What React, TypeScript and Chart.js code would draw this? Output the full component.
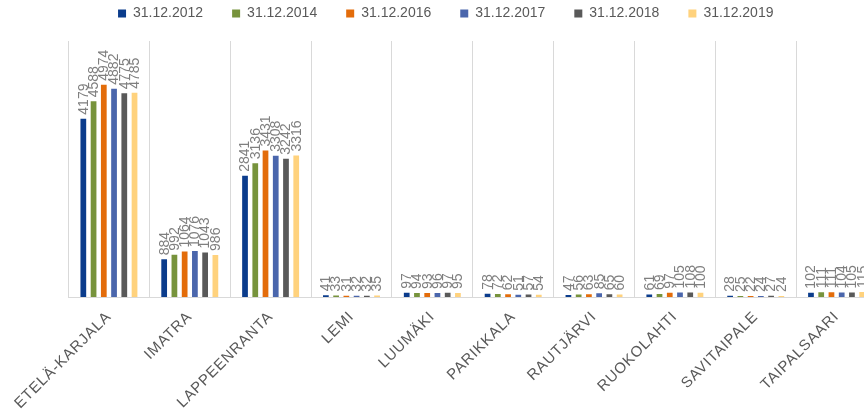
import React, { useEffect, useRef } from 'react';
import { Chart, registerables } from 'chart.js';

Chart.register(...registerables);

const categories = [
  'ETELÄ-KARJALA',
  'IMATRA',
  'LAPPEENRANTA',
  'LEMI',
  'LUUMÄKI',
  'PARIKKALA',
  'RAUTJÄRVI',
  'RUOKOLAHTI',
  'SAVITAIPALE',
  'TAIPALSAARI',
];

const seriesLabels = ['31.12.2012', '31.12.2014', '31.12.2016', '31.12.2017', '31.12.2018', '31.12.2019'];

const v2012 = [4179, 884, 2841, 41, 97, 78, 47, 61, 28, 102];
const v2014 = [4588, 992, 3136, 33, 94, 72, 56, 69, 25, 111];
const v2016 = [4974, 1064, 3431, 31, 93, 62, 63, 97, 22, 111];
const v2017 = [4882, 1076, 3308, 32, 96, 51, 85, 105, 24, 104];
const v2018 = [4775, 1043, 3242, 32, 97, 57, 65, 108, 27, 105];
const v2019 = [4785, 986, 3316, 35, 95, 54, 60, 100, 24, 115];

const seriesValues = [v2012, v2014, v2016, v2017, v2018, v2019];
const seriesColors = ['#0b3c8c', '#77933c', '#e36c0a', '#4a66ac', '#595959', '#ffd27d'];

const yMax = 6000;
const FONT = "'Liberation Sans', Arial, sans-serif";

const LEGEND_DX = -27;
const LEGEND_DY = -22.5;

const legendPatch = {
  id: 'legendPatch',
  beforeLayout(chart: any) {
    const lg = chart.legend;
    if (lg && !lg.__patched) {
      lg.__patched = true;
      const fit = lg.fit;
      lg.fit = function () {
        fit.call(this);
        this.height = 41;
      };
      const draw = lg.draw;
      lg.draw = function (...args: any[]) {
        const ctx = this.ctx;
        ctx.save();
        ctx.letterSpacing = '0px';
        ctx.translate(LEGEND_DX, LEGEND_DY);
        draw.apply(this, args);
        ctx.restore();
      };
    }
  },
};

// slightly wider tracking for the category labels, like the original
const tickSpacing = {
  id: 'tickSpacing',
  beforeDraw(chart: any) {
    chart.ctx.letterSpacing = '0.8px';
  },
  beforeDatasetsDraw(chart: any) {
    chart.ctx.letterSpacing = '0px';
  },
};

const barLabels = {
  id: 'barLabels',
  afterDatasetsDraw(chart: any) {
    const ctx = chart.ctx;
    ctx.save();
    ctx.letterSpacing = '0px';
    ctx.font = `14px ${FONT}`;
    ctx.fillStyle = '#7f7f7f';
    ctx.textAlign = 'left';
    ctx.textBaseline = 'middle';
    chart.data.datasets.forEach((ds: any, di: number) => {
      const meta = chart.getDatasetMeta(di);
      meta.data.forEach((bar: any, i: number) => {
        const v = ds.data[i];
        ctx.save();
        ctx.translate(bar.x + 0.5, bar.y - 4);
        ctx.rotate(-Math.PI / 2);
        ctx.fillText(String(v), 0, 0);
        ctx.restore();
      });
    });
    ctx.restore();
  },
};

export default function App() {
  const ref = useRef<HTMLCanvasElement | null>(null);

  useEffect(() => {
    if (!ref.current) return;
    const chart = new Chart(ref.current, {
      type: 'bar',
      data: {
        labels: categories,
        datasets: seriesLabels.map((label, i) => ({
          label,
          data: seriesValues[i],
          backgroundColor: seriesColors[i],
          borderWidth: 0,
          categoryPercentage: 0.76,
          barPercentage: 0.56,
        })),
      },
      options: {
        animation: false,
        responsive: false,
        maintainAspectRatio: false,
        layout: { padding: { left: 68.5, right: 13, top: 0, bottom: 0 } },
        plugins: {
          legend: {
            display: true,
            position: 'top',
            labels: {
              boxWidth: 8,
              boxHeight: 8,
              padding: 29,
              color: '#595959',
              font: { family: FONT, size: 14 },
            },
          },
          tooltip: { enabled: false },
        },
        scales: {
          x: {
            grid: { color: '#d9d9d9', drawTicks: false, offset: true },
            border: { color: '#d9d9d9' },
            ticks: {
              autoSkip: false,
              minRotation: 45,
              maxRotation: 45,
              color: '#595959',
              padding: 11,
              font: { family: FONT, size: 15 },
            },
            afterFit(scale: any) {
              scale.height = 115;
              scale.paddingLeft = 0;
              scale.paddingRight = 0;
            },
          },
          y: {
            display: false,
            min: 0,
            max: yMax,
          },
        },
      },
      plugins: [legendPatch, tickSpacing, barLabels],
    });
    return () => chart.destroy();
  }, []);

  return (
    <div style={{ position: 'fixed', left: 0, top: 0, width: 864, height: 412, overflow: 'hidden', background: '#fff' }}>
      <canvas
        ref={ref}
        width={890}
        height={412}
        style={{ position: 'absolute', left: 0, top: 0, width: 890, height: 412 }}
      />
    </div>
  );
}
